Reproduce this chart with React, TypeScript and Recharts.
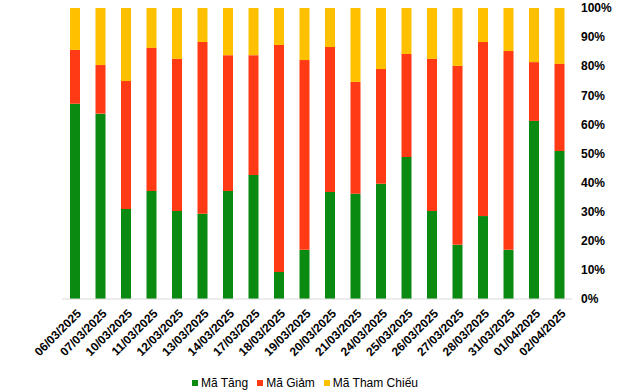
import React from 'react'
import { BarChart, Bar, XAxis, YAxis, Legend } from 'recharts'

const dates = [
  '06/03/2025', '07/03/2025', '10/03/2025', '11/03/2025', '12/03/2025',
  '13/03/2025', '14/03/2025', '17/03/2025', '18/03/2025', '19/03/2025',
  '20/03/2025', '21/03/2025', '24/03/2025', '25/03/2025', '26/03/2025',
  '27/03/2025', '28/03/2025', '31/03/2025', '01/04/2025', '02/04/2025',
]
// % of tickers going up / down / unchanged
const maTang = [67.1, 63.7, 30.9, 37.1, 30.2, 29.3, 37.1, 42.6, 9.3, 16.9, 36.8, 36.2, 39.6, 48.8, 30.2, 18.6, 28.5, 16.9, 61.2, 50.9]
const maGiam = [18.5, 16.7, 44.0, 49.2, 52.3, 59.0, 46.7, 41.2, 78.0, 65.2, 49.8, 38.4, 39.4, 35.4, 52.3, 61.5, 59.8, 68.3, 20.2, 29.9]
const maThamChieu = [14.4, 19.6, 25.1, 13.7, 17.5, 11.7, 16.2, 16.2, 12.7, 17.9, 13.4, 25.4, 21.0, 15.8, 17.5, 19.9, 11.7, 14.8, 18.6, 19.2]
const yTicks = [0, 10, 20, 30, 40, 50, 60, 70, 80, 90, 100]

const series = [
  { key: 'tang', name: 'Mã Tăng', color: '#0A8A10' },
  { key: 'giam', name: 'Mã Giảm', color: '#FF3A14' },
  { key: 'tc', name: 'Mã Tham Chiếu', color: '#FFC000' },
]

const data = dates.map((d, i) => ({
  date: d,
  tang: maTang[i],
  giam: maGiam[i],
  tc: maThamChieu[i],
}))

const font = 'Arial, "Liberation Sans", sans-serif'

function DateTick({ x, y, payload }: any) {
  const tx = x + 1
  const ty = y + 1
  return (
    <text
      x={tx}
      y={ty}
      transform={`rotate(-45, ${tx}, ${ty})`}
      textAnchor="end"
      dominantBaseline="hanging"
      fontFamily={font}
      fontSize={12}
      fontWeight="bold"
      fill="#000"
    >
      {payload.value}
    </text>
  )
}

function LegendBox() {
  return (
    <div style={{ display: 'flex', justifyContent: 'flex-start', paddingLeft: 192, fontFamily: font, fontSize: 12, color: '#000', height: 20 }}>
      {series.map((s) => (
        <span key={s.key} style={{ display: 'flex', alignItems: 'center', marginRight: 9 }}>
          <span style={{ width: 6, height: 6, background: s.color, display: 'inline-block', marginRight: 3 }} />
          {s.name}
        </span>
      ))}
    </div>
  )
}

export default function App() {
  return (
    <div style={{ position: 'absolute', left: 0, top: 0, background: '#fff' }}>
      <BarChart
        width={640}
        height={392}
        data={data}
        margin={{ top: 8, right: 8, bottom: 8, left: 62 }}
      >
        <XAxis
          dataKey="date"
          interval={0}
          height={65}
          tickLine={false}
          axisLine={{ stroke: '#d9d9d9' }}
          tick={<DateTick />}
        />
        <YAxis
          orientation="right"
          domain={[0, 100]}
          ticks={yTicks}
          width={60}
          axisLine={false}
          tickLine={false}
          tickFormatter={(v) => `${v}%`}
          tick={{ fontFamily: font, fontSize: 12, fontWeight: 'bold', fill: '#000', textAnchor: 'start' }}
          dx={1}
        />
        <Legend
          verticalAlign="bottom"
          content={<LegendBox />}
          wrapperStyle={{ left: 0, width: 640, top: 373, bottom: 'auto' }}
        />
        {series.map((s) => (
          <Bar key={s.key} dataKey={s.key} name={s.name} stackId="a" fill={s.color} barSize={10} isAnimationActive={false} />
        ))}
      </BarChart>
    </div>
  )
}
